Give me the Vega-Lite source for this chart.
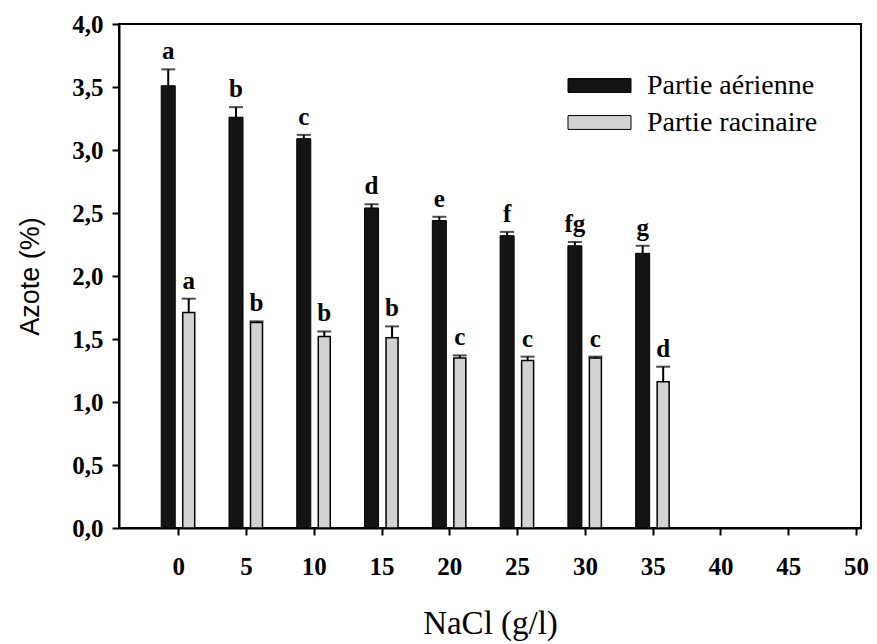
{
  "$schema": "https://vega.github.io/schema/vega-lite/v6.json",
  "width": 742,
  "height": 504,
  "autosize": {"type": "none"},
  "padding": {"left": 119, "top": 24, "right": 16, "bottom": 116},
  "background": "white",
  "config": {
    "view": {"stroke": "black", "strokeWidth": 2},
    "axis": {"grid": false, "domainColor": "black", "domainWidth": 2, "tickColor": "black", "tickWidth": 2, "tickSize": 7, "labelColor": "black", "titleColor": "black", "labelFont": "Liberation Serif"},
    "legend": {"labelFont": "Liberation Serif"},
    "text": {"font": "Liberation Serif"}
  },
  "data": {
    "values": [
      {"nacl": 0, "partie": "Partie aérienne", "value": 3.51, "err": 3.64, "letter": "a"},
      {"nacl": 5, "partie": "Partie aérienne", "value": 3.26, "err": 3.34, "letter": "b"},
      {"nacl": 10, "partie": "Partie aérienne", "value": 3.09, "err": 3.12, "letter": "c"},
      {"nacl": 15, "partie": "Partie aérienne", "value": 2.54, "err": 2.57, "letter": "d"},
      {"nacl": 20, "partie": "Partie aérienne", "value": 2.44, "err": 2.47, "letter": "e"},
      {"nacl": 25, "partie": "Partie aérienne", "value": 2.32, "err": 2.35, "letter": "f"},
      {"nacl": 30, "partie": "Partie aérienne", "value": 2.24, "err": 2.27, "letter": "fg"},
      {"nacl": 35, "partie": "Partie aérienne", "value": 2.18, "err": 2.24, "letter": "g"},
      {"nacl": 0, "partie": "Partie racinaire", "value": 1.71, "err": 1.82, "letter": "a"},
      {"nacl": 5, "partie": "Partie racinaire", "value": 1.63, "err": 1.64, "letter": "b"},
      {"nacl": 10, "partie": "Partie racinaire", "value": 1.52, "err": 1.56, "letter": "b"},
      {"nacl": 15, "partie": "Partie racinaire", "value": 1.51, "err": 1.6, "letter": "b"},
      {"nacl": 20, "partie": "Partie racinaire", "value": 1.35, "err": 1.37, "letter": "c"},
      {"nacl": 25, "partie": "Partie racinaire", "value": 1.33, "err": 1.36, "letter": "c"},
      {"nacl": 30, "partie": "Partie racinaire", "value": 1.35, "err": 1.36, "letter": "c"},
      {"nacl": 35, "partie": "Partie racinaire", "value": 1.16, "err": 1.28, "letter": "d"}
    ]
  },
  "encoding": {
    "x": {
      "field": "nacl", "type": "quantitative",
      "scale": {"domain": [-4, 50], "nice": false, "zero": false},
      "axis": {
        "values": [0, 5, 10, 15, 20, 25, 30, 35, 40, 45, 50],
        "title": "NaCl (g/l)",
        "titleFont": "Liberation Serif", "titleFontSize": 33, "titleFontWeight": "normal", "titlePadding": 28,
        "labelFont": "Liberation Serif", "labelFontSize": 25, "labelFontWeight": "bold", "labelPadding": 19, "labelFlush": false
      }
    }
  },
  "layer": [
    {
      "transform": [{"filter": "datum.partie === 'Partie aérienne'"}],
      "layer": [
        {
          "mark": {"type": "bar", "width": 14, "xOffset": -10, "stroke": "black", "strokeWidth": 1},
          "encoding": {
            "y": {
              "field": "value", "type": "quantitative",
              "scale": {"domain": [0, 4], "nice": false},
              "axis": {
                "values": [0, 0.5, 1, 1.5, 2, 2.5, 3, 3.5, 4],
                "labelExpr": "replace(format(datum.value, '.1f'), '.', ',')",
                "title": "Azote (%)",
                "titleFont": "Liberation Sans", "titleFontSize": 27, "titleFontWeight": "normal", "titlePadding": 27,
                "labelFont": "Liberation Serif", "labelFontSize": 25, "labelFontWeight": "bold", "labelPadding": 9
              }
            },
            "color": {
              "field": "partie", "type": "nominal",
              "scale": {"domain": ["Partie aérienne", "Partie racinaire"], "range": ["#141414", "#d2d2d2"]},
              "legend": {
                "title": null, "orient": "none", "legendX": 464, "legendY": 45,
                "symbolType": "M-2,-0.44H2V0.44H-2Z", "symbolSize": 992, "symbolStrokeColor": "black", "symbolStrokeWidth": 1,
                "labelFont": "Liberation Serif", "labelFontSize": 28, "labelColor": "black", "labelOffset": 31, "labelLimit": 400, "rowPadding": 6
              }
            }
          }
        },
        {
          "mark": {"type": "rule", "xOffset": -10, "color": "black", "strokeWidth": 2},
          "encoding": {"y": {"field": "value", "type": "quantitative"}, "y2": {"field": "err"}}
        },
        {
          "mark": {"type": "tick", "orient": "horizontal", "xOffset": -10, "color": "black", "size": 14, "thickness": 2},
          "encoding": {"y": {"field": "err", "type": "quantitative"}}
        },
        {
          "mark": {"type": "text", "xOffset": -10, "baseline": "alphabetic", "dy": -10, "font": "Liberation Serif", "fontSize": 25, "fontWeight": "bold", "color": "black"},
          "encoding": {"y": {"field": "err", "type": "quantitative"}, "text": {"field": "letter"}}
        }
      ]
    },
    {
      "transform": [{"filter": "datum.partie === 'Partie racinaire'"}],
      "layer": [
        {
          "mark": {"type": "bar", "width": 12, "xOffset": 10.5, "stroke": "black", "strokeWidth": 1.5},
          "encoding": {
            "y": {"field": "value", "type": "quantitative"},
            "color": {"field": "partie", "type": "nominal"}
          }
        },
        {
          "mark": {"type": "rule", "xOffset": 10.5, "color": "black", "strokeWidth": 2},
          "encoding": {"y": {"field": "value", "type": "quantitative"}, "y2": {"field": "err"}}
        },
        {
          "mark": {"type": "tick", "orient": "horizontal", "xOffset": 10.5, "color": "black", "size": 14, "thickness": 2},
          "encoding": {"y": {"field": "err", "type": "quantitative"}}
        },
        {
          "mark": {"type": "text", "xOffset": 10.5, "baseline": "alphabetic", "dy": -10, "font": "Liberation Serif", "fontSize": 25, "fontWeight": "bold", "color": "black"},
          "encoding": {"y": {"field": "err", "type": "quantitative"}, "text": {"field": "letter"}}
        }
      ]
    }
  ]
}
